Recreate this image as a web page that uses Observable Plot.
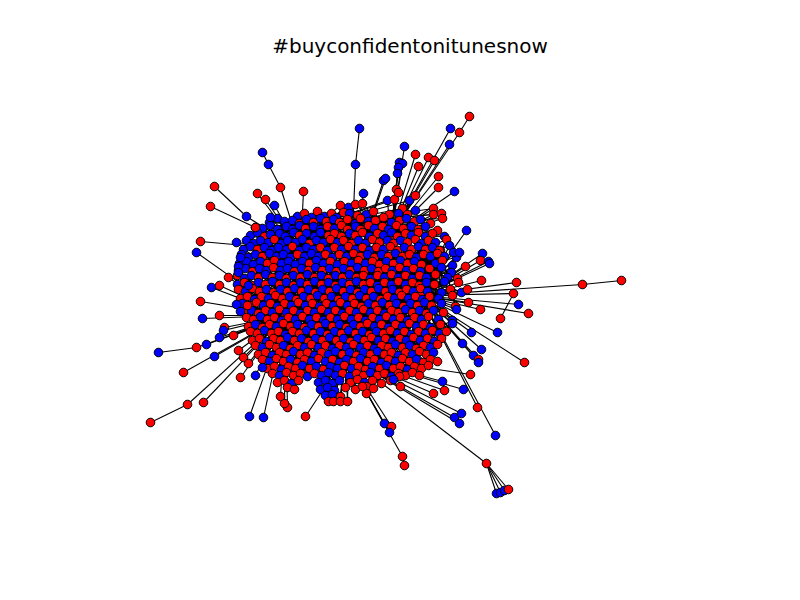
<!DOCTYPE html>
<html>
<head>
<meta charset="utf-8">
<script src="https://cdn.jsdelivr.net/npm/d3@7"></script>
<script src="https://cdn.jsdelivr.net/npm/@observablehq/plot@0.6"></script>
<style>
  html, body { margin: 0; padding: 0; background: #ffffff; }
  #wrap { position: relative; width: 800px; height: 600px; }
  #title { position: absolute; left: 0; top: 34px; width: 820px; text-align: center;
           font-family: "DejaVu Sans", sans-serif; font-size: 20px; line-height: 24px; color: #000; }
  #chart { position: absolute; left: 0; top: 0; }
</style>
</head>
<body>
<div id="wrap">
  <div id="chart"></div>
  <div id="title">#buyconfidentonitunesnow</div>
</div>
<script>
// ---- data (layout positions, in layout units) ----
const hubX = [300, 390, 285, 350, 420, 345, 255, 440, 400, 315];
const hubY = [250, 235, 315, 280, 295, 355, 270, 250, 345, 225];
const hubColor = ["b", "r", "r", "b", "r", "b", "b", "r", "b", "b"];
const hubLinks = [[0,1],[0,2],[0,3],[0,5],[1,3],[1,4],[2,3],[2,5],[3,4],[3,5],[4,5]];

const coreRowY = [205,213,220,227,234,241,248,255,262,269,276,283,290,297,304,311,318,325,332,339,346,353,360,367,374,381,388,395,401];
const coreRowHubs = [[1,1],[0,1],[0,1],[0,1],[0,1],[0,3],[0,3],[0,3],[0,3],[0,3],
  [2,4],[2,4],[2,4],[2,4],[2,4],[2,4],[2,4],[2,4],[2,4],[2,4],[2,4],
  [2,5],[2,5],[2,5],[2,5],[2,5],[2,5],[5,5],[5,5]];
const coreRowHub2 = [9,9,9,9,9,8,8,5,5,5,9,9,9,7,7,7,8,8,8,8,8,3,3,3,3,3,3,3,3];
const coreRows = [
  "r340 b348+2 r355-1 r362-2 b387-5 r394-6 b409-5 r402+3 r433+3",
  "b297+3 r304 b311+4 r317-2 b324+3 r331 b336+4 r343-1 | b349 r357+2 b366+1 r373-2 r389+1 b398 r407+1 b415-3 r433+1 r441",
  "b269+2 b277-2 b284+1 b292 r299+3 b306-1 r313+2 b320-2 r326+1 b333-1 | r339+2 r347-1 b355+3 r360-2 b368+1 r375 r383-3 b391+2 r399 b406-2 r414+1 b420-1 r430+3 r442-2",
  "r255 b262+1 b270-2 b277+2 b286-1 b292+2 b299-2 r305+1 b313-1 b320+2 r327-1 | b334+1 r341-2 r347+2 b355-1 r360+2 r368-2 b374+1 r382-1 b388+2 r396-2 r403+1 b411-1 r418+2 b425-1 r437+3",
  "b250+1 b257-2 r264+2 b270 b279-1 b285+2 b293-2 r299+1 b306-1 b314+2 b320-2 r328+1 | r334-1 r341+2 b349-1 r355+1 r362-2 b369+2 r377-1 b383+1 b391-2 r397+2 r405-1 b411+1 r418-2 b425+2 r432-1 b444+2",
  "b246-1 b253+2 b260-1 b268+1 r274-2 b281+2 b287-1 b295+1 b302-2 r309+2 b316-1 b323+1 | r330-2 b337+1 r343-1 r351+2 b358-1 b365+2 r372-2 r379+1 b387-1 r393+2 b400-1 r407+1 r415-2 b421+2 r428-1 b435+1 r446-2",
  "b243+1 b250-2 r257+1 b264-1 b271+2 b278-1 b286+1 r292-2 b299+2 b306-1 b313+1 r320-1 b327+2 | r334-1 b341+1 r348-2 b355+1 r362-1 b369+2 r376-1 b383+1 r390-2 r397+2 b404-1 r411+1 b418-2 r425+1 b432-1 r439+2 b449-3",
  "b241-1 b248+2 b255-1 r262+1 b269-2 b276+1 b283-1 b290+2 r297-1 b304+1 b311-2 b318+1 r325-1 b332+2 | r339-1 b346+1 r353-2 r360+1 b367-1 r374+2 b381-1 r388+1 b395-2 r402+1 r409-1 b416+2 r423-1 b430+1 r437-2 b444+1 b456+2",
  "b239+1 b246-1 b253+2 b260-1 r267+1 r274-2 b281+1 b288-1 b295+2 b302-1 r309+1 b316-2 b323+1 r330-1 | b337+2 r344-1 b351+1 r358-2 b365+1 r372-1 r379+2 b386-1 r393+1 b400-2 r407+1 b414-1 r421+2 b435+1 r442-2 b452+3",
  "b238+1 b245-1 r252+2 b259-1 b266+1 r273-2 b280+1 b287-1 r294+2 b301-1 r308+1 b315-2 r322+1 b329-1 | r336+2 b343-1 r350+1 b357-2 r364+1 b371-1 r378+2 r385-1 b392+1 r399-2 b406+1 r413-1 b420+2 r429-1 b441-2 b451+3",
  "r237-1 b244+2 b251-1 r258+1 b265-2 r272+1 b279-1 r286+2 b293-1 r300+1 b307-2 r314+1 b321-1 r328+2 | b335-1 r342+1 b349-2 r356+1 r363-1 b370+2 r377-1 b384+1 r391-2 b398+1 r405-1 b412+2 r419-1 b426+1 r435-2 b447+1 r457+2",
  "b237+1 r244-1 r251+2 b258-1 r265+1 b272-2 r279+1 b286-1 r293+2 b300-1 r307+1 b314-2 r321+1 b328-1 | r335+2 b342-1 r349+1 b356-2 r363+1 r370-1 b377+2 r384-1 b391+1 r398-2 b405+1 r412-1 r419+2 b426-1 r434+1 b444-2 r458-1",
  "r238-1 b245+1 r252-2 r259+1 b266-1 r273+2 b280-1 r287+1 b294-2 r301+1 b308-1 r315+2 b322-1 | r329+1 b336-2 r343+1 b350-1 r357+2 b364-1 r371+1 b378-2 r385+1 b392-1 r399+2 r406-1 b413+1 r420-2 b427+1 b441+2 r450-1 b461+2",
  "r240+1 r247-1 b254+2 r261-1 b268+1 r275-2 r282+1 b289-1 r296+2 b303-1 r310+1 b317-2 r324+1 | b331-1 r338+2 b345-1 r352+1 b359-2 r366+1 b373-1 r380+2 r387-1 b394+1 r401-2 b408+1 r415-1 b422+2 r429-1 b438+1 r452-2",
  "b242-1 r249+1 r256-2 b263+1 r270-1 b277+2 r284-1 b291+1 r298-2 b305+1 r312-1 b319+2 | r326-1 b333+1 r340-2 b347+1 r354-1 r361+2 b368-1 r375+1 b382-2 r389+1 b396-1 r403+2 b410-1 r417+1 b424-2 r431+1 b441-1 r455+2",
  "r244+1 b251-1 r258+2 r265-1 b272+1 r279-2 b286+1 r293-1 b300+2 r307-1 b314+1 r321-2 | b328+1 r335-1 b342+2 r349-1 b356+1 r363-2 b370+1 r377-1 b384+2 r391-1 r398+1 b405-2 r412+1 b419-1 r426+2 b433-1 r443+1 b456-2",
  "r246-1 r253+1 b260-2 r267+1 r274-1 b281+2 r288-1 b295+1 r302-2 b309+1 r316-1 | b323+2 r330-1 b337+1 r344-2 b351+1 r358-1 b365+2 r372-1 b379+1 r386-2 b393+1 r400-1 b407+2 r414-1 b421+1 r428-2 b438+1 b452+2",
  "r248+1 b255-1 r262+2 r269-1 b276+1 r283-2 r290+1 b297-1 r304+2 b311-1 r318+1 | b325-2 r332+1 b339-1 r346+2 b353-1 r360+1 r367-2 b374+1 r381-1 b388+2 r395-1 b402+1 r409-2 b416+1 r423-1 b430+2 r440-1 b452-2",
  "r250-1 r257+1 b264-2 r271+1 r278-1 b285+2 r292-1 r299+1 b306-2 r313+1 | b320-1 r327+2 b334-1 r341+1 b348-2 r355+1 b362-1 r369+2 b376-1 r383+1 r390-2 b397+1 r404-1 b411+2 r418-1 b425+1 r432-2 b439+1 r446-1",
  "r252+1 r259-1 b266+2 r273-1 r280+1 b287-2 r294+1 b301-1 r308+2 | b315-1 r322+1 b329-2 r336+1 b343-1 r350+2 b357-1 r364+1 r371-2 b378+1 r385-1 b392+2 r399-1 b406+1 r413-2 b420+1 r427-1 b434+2 r441-1",
  "r255-1 b262+1 r269-2 r276+1 b283-1 r290+2 r297-1 b304+1 r311-2 | b318+1 r325-1 b332+2 r339-1 b346+1 r353-2 b360+1 r367-1 b374+2 r381-1 r388+1 b395-2 r402+1 b409-1 r416+2 r423-1 b430+1 r437-2",
  "r258+1 r265-1 b272+2 r279-1 r286+1 b293-2 r300+1 r307-1 | b314+2 r321-1 b328+1 b335-2 r342+1 b349-1 r356+2 b363-1 r370+1 b377-2 r384+1 r391-1 b398+2 r405-1 b412+1 r419-2 r426+1 b433-1",
  "r262-1 b269+1 r276-2 r283+1 b290-1 r297+2 r304-1 b311+1 | r318-2 b325+1 r332-1 b339+2 b346-1 r353+1 b360-2 r367+1 r374-1 b381+2 r388-1 b395+1 r402-2 r409+1 b416-1 r423+2 r430-1 r437+1",
  "r267+1 r274-1 b281+2 r288-1 r295+1 b302-2 r309+1 | b316-1 r323+2 b330-1 b337+1 r344-2 b351+1 r358-1 r365+2 b372-1 r379+1 b386-2 r393+1 r400-1 b407+2 r414-1 r421+1 r428-2",
  "r272-1 b279+1 r286-2 r293+1 r300-1 b307+2 | r314-1 b321+1 b328-2 b335+1 r342-1 b349+2 r356-1 r363+1 b370-2 r377+1 r384-1 b391+2 r398-1 r405+1 r412-2 r419+1",
  "r277+1 r284-1 b291+2 r298-1 | b318+1 b325-1 b332+2 b339-1 r350+1 r357-2 b364+1 r372-1 r381+2 r390-1",
  "r287-1 r294+1 | b320+1 b327-1 b334+2 r345-1 r355+1 r366-2",
  "b325 b332-1 r340+1",
  "r328 r333 r340 r347"
];

// peripheral nodes: position, colour, and the node each one is linked to
const periX = [262,268,280,214,246,210,255,257,265,274,270,303,200,236,196,359,355,
  469,459,450,404,449,415,428,434,399,402,418,398,397,438,383,385,438,454,363,396,398,415,466,
  453,459,482,480,488,489,465,481,516,621,582,467,513,500,518,468,480,528,471,497,462,481,473,478,478,524,470,
  433,444,442,463,477,454,459,461,495,486,496,500,504,508,
  384,391,389,402,404,399,393,400,366,373,362,
  305,287,284,280,249,263,240,255,262,
  150,187,203,183,158,196,206,214,202,219,200,211,219,228,224,223,219,240,238,238,236,240,248,247,233,238,243,248];
const periY = [152,164,187,186,216,206,227,193,199,205,217,191,241,242,252,128,164,
  116,132,128,146,144,154,157,160,162,163,166,167,173,176,180,178,187,191,193,189,192,195,230,
  252,252,253,260,261,263,266,280,282,280,284,289,293,318,304,302,309,313,332,332,343,349,355,359,362,362,374,
  393,390,381,389,407,417,423,413,435,463,493,492,490,489,
  423,426,432,456,465,376,379,386,393,388,386,
  416,407,403,396,416,417,377,375,367,
  422,404,402,372,352,347,344,356,318,315,301,287,285,277,327,330,337,257,266,272,304,311,285,305,335,350,357,363];
const periColor = ["b","b","r","r","b","r","r","r","r","b","b","r","r","b","b","b","b",
  "r","r","b","b","b","r","r","r","b","b","r","b","b","r","b","b","r","b","b","r","r","r","b",
  "b","b","b","r","b","b","r","r","r","r","r","r","r","r","b","r","r","r","b","b","b","b","b","r","b","r","r",
  "r","r","b","b","r","b","b","b","b","r","b","b","b","r",
  "b","r","b","r","r","r","b","r","r","r","r",
  "r","r","r","r","b","b","r","b","b",
  "r","r","r","r","b","r","b","b","b","r","r","b","r","r","r","b","b","b","b","b","b","b","b","r","r","r","r","r"];
const periLink = ["p1","p2","h0","p4","h0","p6","h0","h0","h0","h0","h0","h0","h0","h0","h2","p16","h3",
  "p18","h1","h1","h1","h1","h1","h1","h1","h1","h1","h1","h1","h1","h1","h3","h3","h1","h1","h3","h1","h1","h1","h4",
  "h4","h4","h4","h4","h4","h4","h4","h4","h4","p50","h4","h4","h4","p52","h4","h4","h4","h4","h4","h4","h4","h4","h4","h4","h4","h4","h5",
  "h5","h5","h5","h5","h4","h5","h5","h5","h4","h5","p76","p76","p76","p76",
  "h5","h5","h5","h5","p84","h5","h5","h5","h5","h5","h5",
  "h5","h2","h2","h2","h2","h2","h2","h2","h2",
  "p102","h2","h2","h2","p106","h2","h2","h2","h2","h2","h2","h2","h2","h2","h2","h2","h2","h0","h0","h0","h2","h2","h2","h2","h2","h2","h2","h2"];

// ---- build node and edge tables ----
const hubs = hubX.map((x, i) => ({x, y: hubY[i], c: hubColor[i]}));
const core = [];
const edges = [];
coreRows.forEach((row, ri) => {
  const parts = row.split("|");
  const hub2 = hubs[coreRowHub2[ri]];
  parts.forEach((part, pi) => {
    const hub = hubs[coreRowHubs[ri][pi]];
    part.trim().split(/\s+/).filter(s => s).forEach(tok => {
      const m = tok.match(/^([rb])(\d+)([+-]\d+)?$/);
      const n = {x: +m[2], y: coreRowY[ri] + (m[3] ? +m[3] : 0), c: m[1]};
      core.push(n);
      edges.push({x1: n.x, y1: n.y, x2: hub.x, y2: hub.y});
      edges.push({x1: n.x, y1: n.y, x2: hub2.x, y2: hub2.y});
    });
  });
});
const peri = periX.map((x, i) => ({x, y: periY[i], c: periColor[i]}));
periLink.forEach((l, i) => {
  const t = l[0] === "h" ? hubs[+l.slice(1)] : peri[+l.slice(1)];
  edges.push({x1: peri[i].x, y1: peri[i].y, x2: t.x, y2: t.y});
});
hubLinks.forEach(([a, b]) =>
  edges.push({x1: hubs[a].x, y1: hubs[a].y, x2: hubs[b].x, y2: hubs[b].y}));

const nodes = [...hubs, ...core, ...peri];

const chart = Plot.plot({
  width: 800,
  height: 600,
  margin: 0,
  x: {domain: [0, 800], range: [0, 800], axis: null},
  y: {domain: [0, 600], range: [0, 600], axis: null},
  marks: [
    Plot.link(edges, {x1: "x1", y1: "y1", x2: "x2", y2: "y2", stroke: "#000000", strokeWidth: 1.1, strokeOpacity: 1}),
    Plot.dot(nodes, {x: "x", y: "y", r: 4.3, fill: d => d.c === "r" ? "#ff0000" : "#0000ff", stroke: "#000000", strokeWidth: 1})
  ]
});
document.getElementById("chart").appendChild(chart);
</script>
</body>
</html>
